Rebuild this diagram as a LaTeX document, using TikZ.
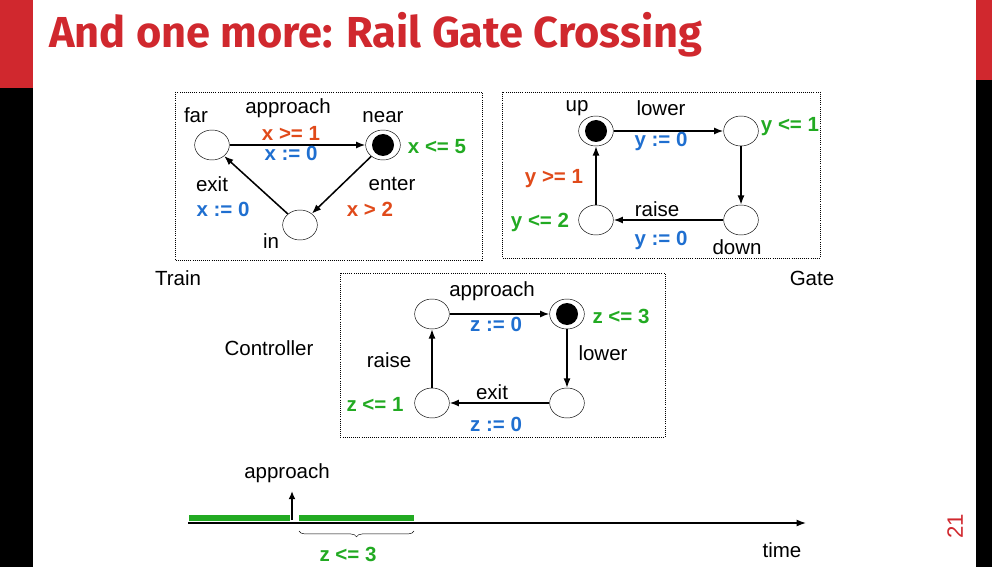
\documentclass[tikz,border=0pt]{standalone}
\usepackage{fontspec}
\setmainfont{Liberation Sans}
\newfontfamily\titlefont{Fira Sans}
\usetikzlibrary{arrows.meta,decorations.pathreplacing,shapes.geometric}
\definecolor{tred}{HTML}{D0282E}
\definecolor{gor}{HTML}{E04A1A}
\definecolor{gbl}{HTML}{1F6FD0}
\definecolor{ggr}{HTML}{22AA22}
\begin{document}
\begin{tikzpicture}[x=0.03cm,y=-0.03cm,
  st/.style={draw,ellipse,minimum width=1.04cm,minimum height=0.9cm,inner sep=0pt,thin},
  txt/.style={font=\fontsize{17.5}{20}\selectfont},
  bt/.style={font=\fontsize{17.5}{20}\selectfont\bfseries},
  edge/.style={line width=1.3pt,-{Latex[length=8pt,width=6pt]}},
  box/.style={dash pattern=on 0.6pt off 1.2pt,thin}]
\useasboundingbox (0,0) rectangle (992,567);
\fill[tred] (0,0) rectangle (33,88);
\fill[black] (0,88) rectangle (33,567);
\fill[tred] (976,0) rectangle (992,80);
\fill[black] (976,80) rectangle (992,567);
\node[text=tred,font=\titlefont\bfseries\fontsize{37}{40}\selectfont,anchor=west] (title) at (45,35) {And one more: Rail Gate Crossing};
\node[text=tred,rotate=90,font=\rmfamily\fontsize{19}{20}\selectfont] (pg) at (955,526) {21};
% Train
\draw[box] (175,92) rectangle (482,260);
\node[st] (far) at (212,145) {};
\node[st] (near) at (383,145) {};
\fill (near) circle (11);
\node[st] (in) at (300,225) {};
\draw[edge] (far) -- (near);
\draw[edge] (near) -- (in);
\draw[edge] (in) -- (far);
\node[txt] (l1) at (196,115) {far};
\node[txt] (l2) at (288,108) {approach};
\node[bt,text=gor] (l3) at (291,133) {x >= 1};
\node[bt,text=gbl] (l4) at (291,153) {x := 0};
\node[txt] (l5) at (383,117) {near};
\node[bt,text=ggr] (l6) at (437,147) {x <= 5};
\node[txt] (l7) at (212,184) {exit};
\node[bt,text=gbl] (l8) at (223,209) {x := 0};
\node[txt] (l9) at (392,184) {enter};
\node[bt,text=gor] (l10) at (370,209) {x > 2};
\node[txt] (l11) at (271,241) {in};
\node[txt] (l12) at (178,278) {Train};
% Gate
\draw[box] (502,92) rectangle (820,258);
\node[st] (up) at (596,131) {};
\fill (up) circle (11);
\node[st] (g2) at (741,131) {};
\node[st] (down) at (741,220) {};
\node[st] (g4) at (596,220) {};
\draw[edge] (up) -- (g2);
\draw[edge] (g2) -- (down);
\draw[edge] (down) -- (g4);
\draw[edge] (g4) -- (up);
\node[txt] (m1) at (577,108) {up};
\node[txt] (m2) at (661,108) {lower};
\node[bt,text=gbl] (m3) at (661,141) {y := 0};
\node[bt,text=ggr] (m4) at (790,127) {y <= 1};
\node[bt,text=gor] (m5) at (554,179) {y >= 1};
\node[bt,text=ggr] (m6) at (540,222) {y <= 2};
\node[txt] (m7) at (657,209) {raise};
\node[bt,text=gbl] (m8) at (661,240) {y := 0};
\node[txt] (m9) at (737,247) {down};
\node[txt] (m10) at (812,278) {Gate};
% Controller
\draw[box] (340,273) rectangle (665,437);
\node[st] (c1) at (432,314) {};
\node[st] (c2) at (567,314) {};
\fill (c2) circle (11);
\node[st] (c3) at (567,403) {};
\node[st] (c4) at (432,403) {};
\draw[edge] (c1) -- (c2);
\draw[edge] (c2) -- (c3);
\draw[edge] (c3) -- (c4);
\draw[edge] (c4) -- (c1);
\node[txt] (n1) at (492,291) {approach};
\node[bt,text=gbl] (n2) at (496,324) {z := 0};
\node[bt,text=ggr] (n3) at (621,316) {z <= 3};
\node[txt] (n4) at (603,353) {lower};
\node[txt] (n5) at (389,360) {raise};
\node[bt,text=ggr] (n6) at (375,404) {z <= 1};
\node[txt] (n7) at (492,392) {exit};
\node[bt,text=gbl] (n8) at (496,424) {z := 0};
\node[txt] (n9) at (269,348) {Controller};
% timeline
\coordinate (t0) at (188,523);
\coordinate (t1) at (806,523);
\draw[line width=1.3pt,-{Latex[length=8pt,width=6pt]}] (t0) -- (t1);
\draw[ggr,line width=4.5pt] (189,518) -- (290,518);
\draw[ggr,line width=4.5pt] (299,518) -- (414,518);
\coordinate (a0) at (292,520);
\coordinate (a1) at (292,491);
\node[txt] (ap) at (287,473) {approach};
\draw[line width=1.8pt,-{Latex[length=7pt,width=6pt]}] (a0) -- (a1);
\draw[decorate,decoration={brace,mirror,amplitude=5pt}] (299,531) -- (414,531);
\node[bt,text=ggr] (z3) at (348,554) {z <= 3};
\node[txt] (tm) at (782,550) {time};
\end{tikzpicture}
\end{document}
